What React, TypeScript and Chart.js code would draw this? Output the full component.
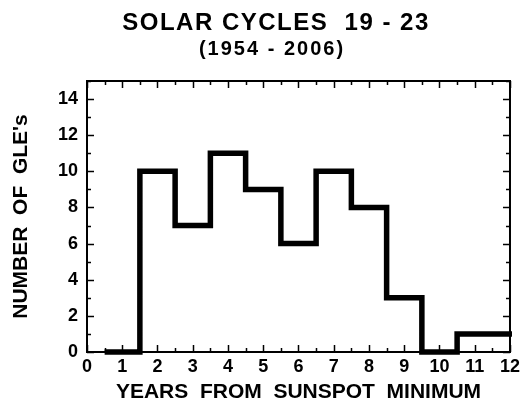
import React, { useEffect, useRef } from "react";
import { Chart, registerables } from "chart.js";

Chart.register(...registerables);

// ---- data ----
const years = [1, 2, 3, 4, 5, 6, 7, 8, 9, 10, 11, 12];
const gleCounts = [0, 10, 7, 11, 9, 6, 10, 8, 3, 0, 1, 1];
const xTickValues = [0, 1, 2, 3, 4, 5, 6, 7, 8, 9, 10, 11, 12];
const yTickValues = [0, 2, 4, 6, 8, 10, 12, 14];
const xMin = 0;
const xMax = 12;
const yMin = 0;
const yMax = 15;
const titleText = "SOLAR CYCLES  19 - 23";
const subtitleText = "(1954 - 2006)";
const xTitleText = "YEARS  FROM  SUNSPOT  MINIMUM";
const yTitleText = "NUMBER  OF  GLE's";

const FONT = "'Liberation Sans', Arial, Helvetica, sans-serif";

// step histogram: each year is a bin of width 1 centred on the year
const stepPoints = years.map((yr, i) => ({ x: yr - 0.5, y: gleCounts[i] }));
stepPoints.push({ x: years[years.length - 1] + 0.5, y: gleCounts[gleCounts.length - 1] });

const framePlugin = {
  id: "frame",
  afterDatasetsDraw(chart: any) {
    const { ctx, chartArea: a, scales } = chart;
    const x = scales.x;
    const y = scales.y;
    ctx.save();
    ctx.strokeStyle = "#000";
    ctx.lineWidth = 1.5;
    ctx.beginPath();
    for (let v = xMin; v <= xMax + 1e-9; v += 0.5) {
      const px = Math.round(x.getPixelForValue(v)) + 0.5;
      const len = Math.abs(v - Math.round(v)) < 1e-9 ? 7 : 4;
      ctx.moveTo(px, a.bottom);
      ctx.lineTo(px, a.bottom - len);
      ctx.moveTo(px, a.top);
      ctx.lineTo(px, a.top + len);
    }
    for (let v = yMin; v <= yMax + 1e-9; v += 1) {
      const py = Math.round(y.getPixelForValue(v)) + 0.5;
      const len = v % 2 === 0 ? 7 : 4;
      ctx.moveTo(a.left, py);
      ctx.lineTo(a.left + len, py);
      ctx.moveTo(a.right, py);
      ctx.lineTo(a.right - len, py);
    }
    ctx.stroke();
    ctx.lineWidth = 2;
    ctx.strokeRect(a.left, a.top, a.right - a.left, a.bottom - a.top);
    ctx.restore();
  },
};

const titlesPlugin = {
  id: "titles",
  afterDraw(chart: any) {
    const { ctx } = chart;
    ctx.save();
    ctx.fillStyle = "#000";
    ctx.textAlign = "center";
    ctx.textBaseline = "alphabetic";
    ctx.letterSpacing = "1.5px";
    ctx.font = `bold 24px ${FONT}`;
    ctx.fillText(titleText, 276, 30);
    ctx.letterSpacing = "2px";
    ctx.font = `bold 20px ${FONT}`;
    ctx.fillText(subtitleText, 272, 55);
    ctx.restore();
  },
};

export default function App() {
  const canvasRef = useRef<HTMLCanvasElement | null>(null);

  useEffect(() => {
    const canvas = canvasRef.current;
    if (!canvas) return;
    const tickFont = { family: FONT, size: 18, weight: "bold" as const };
    const titleFont = { family: FONT, size: 21, weight: "bold" as const };
    const chart = new Chart(canvas, {
      type: "line",
      data: {
        datasets: [
          {
            data: stepPoints,
            stepped: "before",
            borderColor: "#000",
            borderWidth: 5.5,
            pointRadius: 0,
            pointHoverRadius: 0,
            fill: false,
            tension: 0,
            borderJoinStyle: "miter",
            borderCapStyle: "butt",
            clip: { left: 10, top: 10, right: 2, bottom: 10 },
          } as any,
        ],
      },
      options: {
        animation: false,
        responsive: false,
        events: [],
        layout: { padding: { top: 81, right: 12, left: 0, bottom: 0 } },
        plugins: {
          legend: { display: false },
          tooltip: { enabled: false },
          title: { display: false },
        },
        scales: {
          x: {
            type: "linear",
            min: xMin,
            max: xMax,
            afterBuildTicks: (s: any) => {
              s.ticks = xTickValues.map((v) => ({ value: v }));
            },
            afterFit: (s: any) => {
              s.height = 54;
            },
            ticks: {
              font: tickFont,
              color: "#000",
              padding: 4,
              maxRotation: 0,
              autoSkip: false,
            },
            grid: { display: false, drawTicks: false },
            border: { display: false },
            title: {
              display: true,
              text: xTitleText,
              color: "#000",
              font: titleFont,
              padding: { top: 0, bottom: 1 },
            },
          },
          y: {
            type: "linear",
            min: yMin,
            max: yMax,
            afterBuildTicks: (s: any) => {
              s.ticks = yTickValues.map((v) => ({ value: v }));
            },
            afterFit: (s: any) => {
              s.width = 87;
            },
            ticks: {
              font: tickFont,
              color: "#000",
              padding: 9,
              autoSkip: false,
            },
            grid: { display: false, drawTicks: false },
            border: { display: false },
            title: {
              display: true,
              text: yTitleText,
              color: "#000",
              font: titleFont,
              padding: { top: 9, bottom: 0 },
            },
          },
        },
      },
      plugins: [framePlugin, titlesPlugin],
    });
    return () => chart.destroy();
  }, []);

  return (
    <div
      style={{
        position: "absolute",
        left: 0,
        top: 0,
        width: 524,
        height: 406,
        background: "#fff",
      }}
    >
      <canvas ref={canvasRef} width={524} height={406} style={{ display: "block" }} />
    </div>
  );
}
